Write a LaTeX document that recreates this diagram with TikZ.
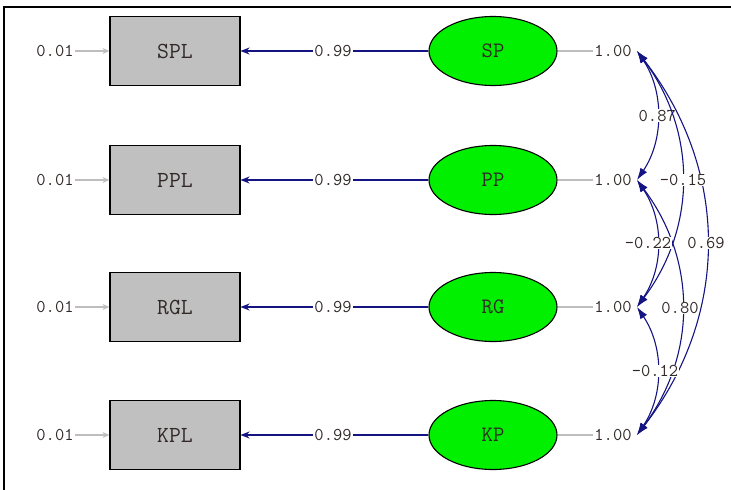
\documentclass[tikz,border=0pt]{standalone}
\usetikzlibrary{arrows.meta,shapes.geometric}
\definecolor{navy}{RGB}{20,20,130}
\definecolor{boxgray}{RGB}{192,192,192}
\definecolor{errgray}{RGB}{190,190,190}
\definecolor{latgreen}{RGB}{0,240,0}
\definecolor{txt}{RGB}{50,40,40}
\tikzset{
  obs/.style={draw=black,line width=1.1pt,fill=boxgray,minimum width=130pt,minimum height=69pt,inner sep=0pt,font=\fontsize{23}{23}\ttfamily,text=txt},
  lat/.style={ellipse,draw=black,line width=1.1pt,fill=latgreen,minimum width=128pt,minimum height=69pt,inner sep=0pt,font=\fontsize{22}{22}\ttfamily,text=txt},
  lab/.style={font=\fontsize{18}{18}\ttfamily,text=txt,inner sep=1pt},
  covlab/.style={lab,fill=white,inner sep=0.5pt},
  errarr/.style={draw=errgray,line width=1.2pt,-{Stealth[length=7pt,width=6pt]}},
  varline/.style={draw=errgray,line width=1.2pt},
  loadline/.style={draw=navy,line width=1.2pt},
  loadarr/.style={draw=navy,line width=1.2pt,-{Stealth[length=9pt,width=7pt]}},
  cov/.style={draw=navy,line width=1.1pt,{Latex[length=12pt,width=8pt]}-{Latex[length=12pt,width=8pt]}}
}
\begin{document}
\begin{tikzpicture}[x=1pt,y=-1pt]
\useasboundingbox (0,0) rectangle (731,490);
\draw[line width=2.2pt] (4,490) -- (4,7) -- (731,7);
\foreach \n/\y in {SP/51,PP/180,RG/307,KP/435}{
  \node[lab] (e\n) at (55,\y) {0.01};
  \node[obs] (\n L) at (175,\y) {\n L};
  \node[lab] (l\n) at (333,\y) {0.99};
  \node[lat] (\n) at (493,\y) {\n};
  \node[lab] (v\n) at (613,\y) {1.00};
  \coordinate (c\n) at (637,\y);
  \draw[errarr] (e\n.east) -- (\n L.west);
  \draw[loadline] (\n.west) -- (l\n.east);
  \draw[loadarr] (l\n.west) -- (\n L.east);
  \draw[varline] (\n.east) -- (v\n.west);
}
\draw[cov] (cSP) .. controls (664,91) and (664,140) .. (cPP) node[covlab,pos=0.5] {0.87};
\draw[cov] (cPP) .. controls (664,220) and (664,267) .. (cRG);
\draw[cov] (cRG) .. controls (664,347) and (664,395) .. (cKP);
\draw[cov] (cSP) .. controls (697,131) and (697,227) .. (cRG);
\draw[cov] (cPP) .. controls (697,260) and (697,355) .. (cKP);
\draw[cov] (cSP) .. controls (730,171) and (730,315) .. (cKP);
\node[covlab] (k69) at (706,243) {0.69};
\node[covlab] (k22) at (648,243) {-0.22};
\node[covlab] (k15) at (683,180) {-0.15};
\node[covlab] (k80) at (680,308) {0.80};
\node[covlab] (k12) at (655,371) {-0.12};
\end{tikzpicture}
\end{document}
